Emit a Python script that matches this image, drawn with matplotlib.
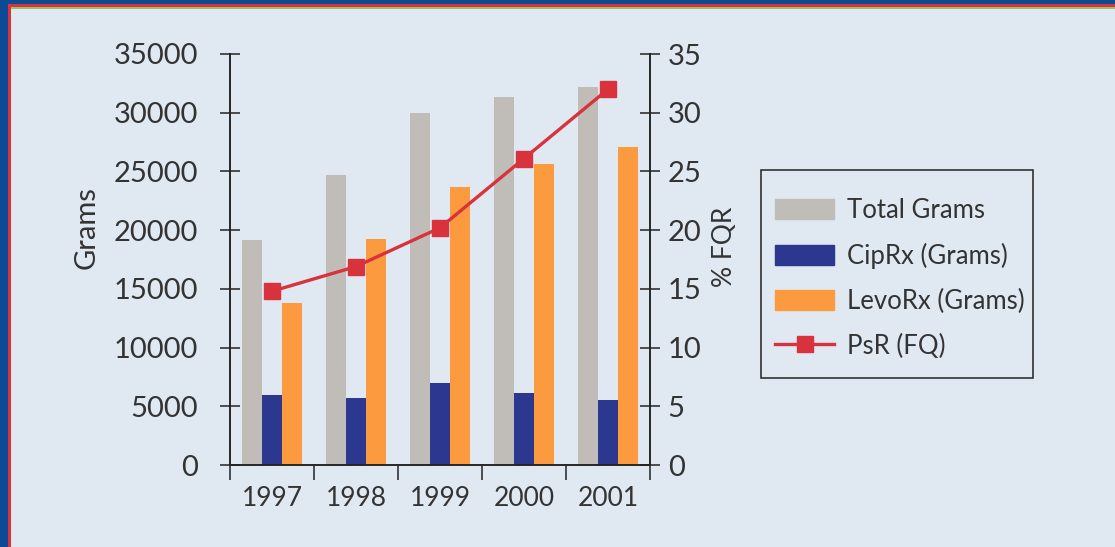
import numpy as np
import matplotlib
matplotlib.use("Agg")
import matplotlib.pyplot as plt
from matplotlib.patches import Rectangle
from matplotlib.lines import Line2D

years = ["1997", "1998", "1999", "2000", "2001"]
total_grams = [19200, 24700, 30000, 31300, 32200]
cip_grams = [6000, 5700, 7000, 6150, 5500]
levo_grams = [13800, 19250, 23700, 25600, 27100]
psr_fq = [14.8, 16.9, 20.2, 26.1, 32.0]

GRAY = "#c0bdb9"
BLUE = "#2c3790"
ORANGE = "#fb9a3e"
RED = "#d8333c"
PANEL = "#e0e8f2"
INK = "#333333"
W, H = 1115, 547

plt.rcParams["font.family"] = ["Lato", "DejaVu Sans"]

fig = plt.figure(figsize=(W / 100, H / 100), dpi=100)
fig.patch.set_facecolor("#0d4a96")

# light page panel with red rule on top/left
for left, top, col in [(8, 4, RED), (11, 7, "#9cbf6a"), (11, 9, PANEL)]:
    fig.patches.append(Rectangle((left / W, 0), 2, 1 - top / H, transform=fig.transFigure,
                                 facecolor=col, edgecolor="none", zorder=-5))

ax = fig.add_axes([230 / W, 1 - 465 / H, (650 - 230) / W, (465 - 54) / H])
ax.set_facecolor("none")
ax2 = ax.twinx()

x = np.arange(len(years))
w = 0.24
ax.bar(x - w, total_grams, w, color=GRAY, zorder=2)
ax.bar(x, cip_grams, w, color=BLUE, zorder=2)
ax.bar(x + w, levo_grams, w, color=ORANGE, zorder=2)

ax2.plot(x, psr_fq, color=RED, lw=2.4, marker="s", markersize=12,
         markerfacecolor=RED, markeredgecolor=RED, zorder=3)

ax.set_xlim(-0.5, 4.5)
ax.set_ylim(0, 35000)
ax2.set_ylim(0, 35)

ax.set_yticks(np.arange(0, 35001, 5000))
ax2.set_yticks(np.arange(0, 36, 5))

# boundary ticks below the axis, year labels centred in each group
ax.set_xticks(np.arange(-0.5, 5, 1))
ax.set_xticklabels([])
ax.set_xticks(x, minor=True)
ax.set_xticklabels(years, minor=True)
ax.tick_params(axis="x", which="major", direction="out", length=11, width=1.1, color="#222222")
ax.tick_params(axis="x", which="minor", length=0, pad=15, labelsize=19, labelcolor=INK)

for a in (ax, ax2):
    a.tick_params(axis="y", direction="inout", length=14.4, width=1.1, color="#222222",
                  labelsize=21, labelcolor=INK)
    for s in a.spines.values():
        s.set_color("#222222")
        s.set_linewidth(1.1)
    a.spines["top"].set_visible(False)
ax.tick_params(axis="y", pad=16)
ax2.tick_params(axis="y", pad=5.5)

ax.set_ylabel("Grams", fontsize=21, color=INK)
ax.yaxis.set_label_coords(-0.31, 0.577)
ax2.set_ylabel("% FQR", fontsize=19, color=INK)
ax2.yaxis.set_label_coords(1.148, 0.53)

handles = [
    Rectangle((0, 0), 1, 1, color=GRAY),
    Rectangle((0, 0), 1, 1, color=BLUE),
    Rectangle((0, 0), 1, 1, color=ORANGE),
    Line2D([], [], color=RED, lw=2.4, marker="s", markersize=12),
]
labels = ["Total Grams", "CipRx (Grams)", "LevoRx (Grams)", "PsR (FQ)"]
leg = fig.legend(handles, labels, loc="upper left",
                 bbox_to_anchor=(775 / W, 1 - 198 / H),
                 frameon=False, fontsize=18.5, labelcolor=INK,
                 handlelength=2.3, handleheight=0.8, handletextpad=0.5,
                 labelspacing=0.77, borderpad=0, borderaxespad=0)
# legend frame drawn separately: wider top/bottom margins than sides
fig.patches.append(Rectangle((761 / W, 1 - 378 / H), (1033 - 761) / W, (378 - 170) / H,
                             transform=fig.transFigure, facecolor="none",
                             edgecolor="#222222", linewidth=1.1))

fig.savefig("out.png", dpi=100, facecolor=fig.get_facecolor())
